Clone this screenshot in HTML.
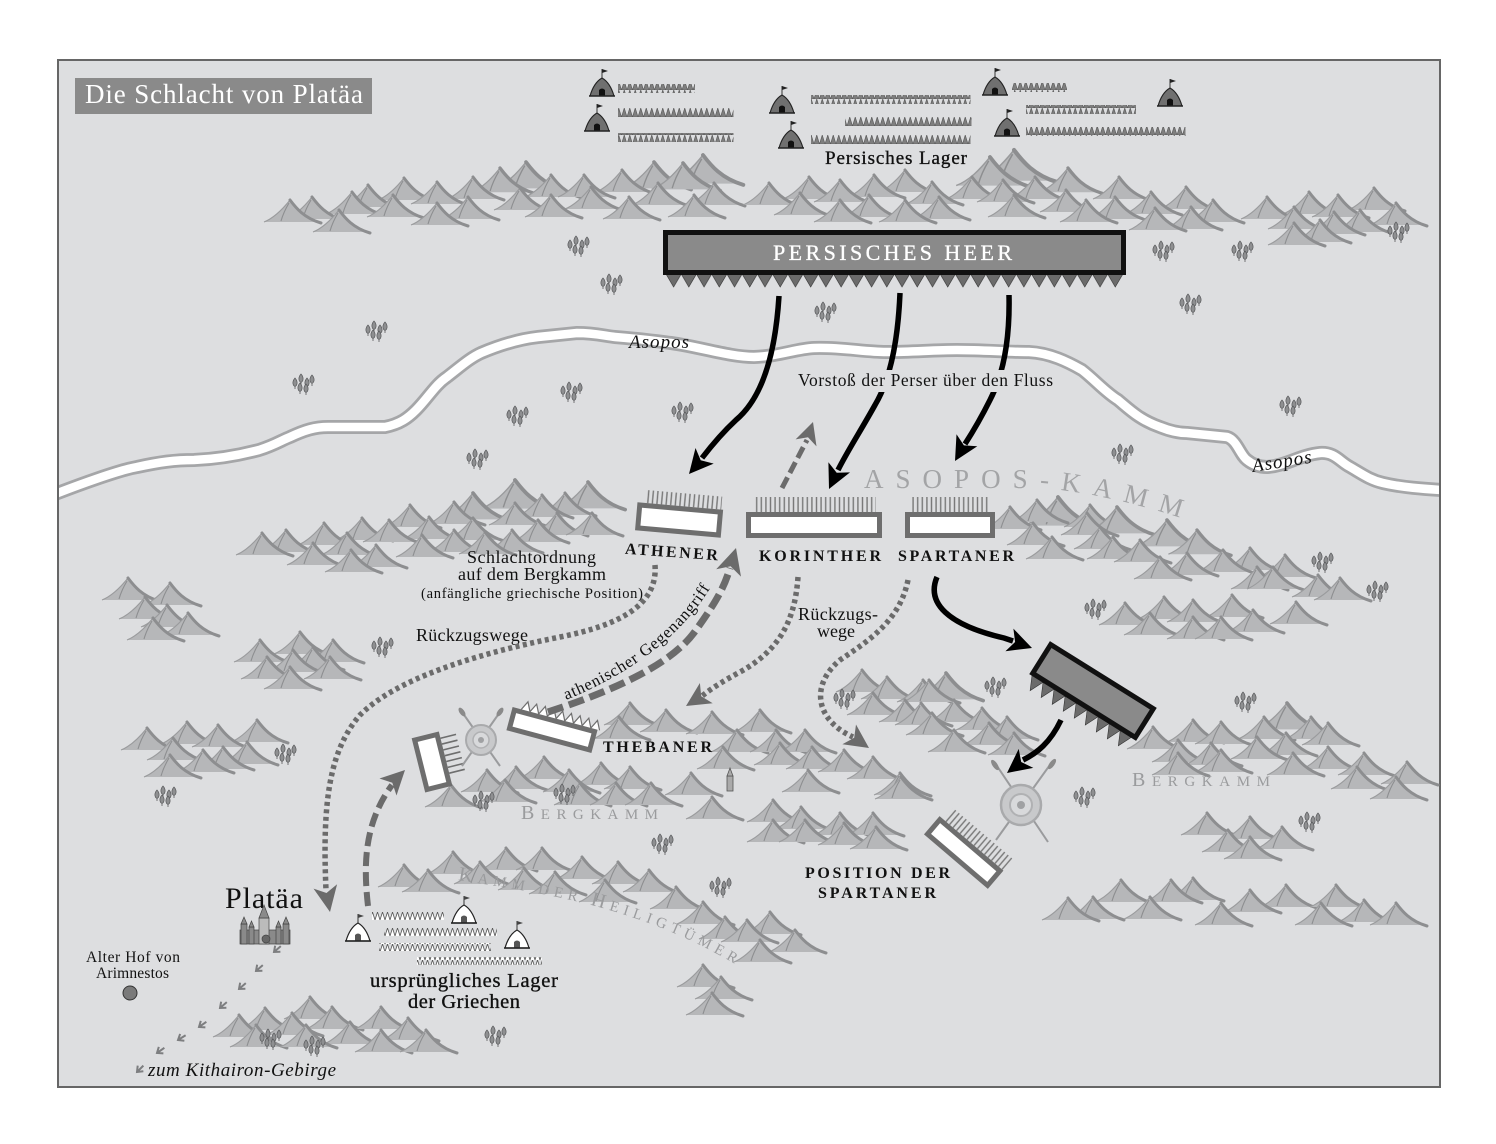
<!DOCTYPE html>
<html><head><meta charset="utf-8"><style>html,body{margin:0;padding:0;background:#fff}svg{display:block}</style></head>
<body>
<svg width="1496" height="1144" viewBox="0 0 1496 1144" xmlns="http://www.w3.org/2000/svg" xmlns:xlink="http://www.w3.org/1999/xlink" font-family="'Liberation Serif', serif">
<defs>
  <clipPath id="frame"><rect x="59" y="61" width="1380" height="1025"/></clipPath>
  <g id="m">
    <path d="M-26,22 C-16,18 -8,10 0,0 C6,8 14,17 28,22 Z" fill="#b6b7b9"/>
    <path d="M-26,22 C-16,18 -8,10 0,0" fill="none" stroke="#9a9b9d" stroke-width="1.1"/>
    <path d="M0,0 C6,8 14,18 31,23" fill="none" stroke="#8d8e90" stroke-width="3" stroke-linecap="round"/>
    <path d="M-9,21 C-7,14 -4,8 -1,3" fill="none" stroke="#8d8e90" stroke-width="1.1"/>
  </g>
  <g id="tt">
    <path d="M0,-7 C2.8,-4 2.8,0 0,1.5 C-2.8,0 -2.8,-4 0,-7Z" fill="#8e8f91" stroke="#58595b" stroke-width=".7"/>
    <path d="M0,1.5 L0,4" stroke="#58595b" stroke-width=".8"/>
  </g>
  <g id="tr">
    <use xlink:href="#tt" x="-8" y="0"/><use xlink:href="#tt" x="-2" y="-4"/><use xlink:href="#tt" x="4" y="0"/>
    <use xlink:href="#tt" x="9" y="-3"/><use xlink:href="#tt" x="-3" y="5"/><use xlink:href="#tt" x="3" y="6"/>
  </g>
  <g id="pt">
    <path d="M0,-9 L0,-18" stroke="#222" stroke-width=".9"/>
    <path d="M0,-18 L6,-16 L0,-14Z" fill="#222"/>
    <path d="M-12,9 C-10,2 -7,-5 0,-9 C7,-5 10,2 12,9Z" fill="#707070" stroke="#222" stroke-width="1.1"/>
    <path d="M-3,9 L-3,3 Q0,0 3,3 L3,9Z" fill="#111"/>
    <line x1="-13" y1="9" x2="13" y2="9" stroke="#222" stroke-width="1.6"/>
  </g>
  <g id="gt">
    <path d="M0,-9 L0,-18" stroke="#222" stroke-width=".9"/>
    <path d="M0,-18 L6,-16 L0,-14Z" fill="#444"/>
    <path d="M-12,9 C-10,2 -7,-5 0,-9 C7,-5 10,2 12,9Z" fill="#fff" stroke="#222" stroke-width="1.2"/>
    <path d="M-3,9 L-3,3 Q0,0 3,3 L3,9Z" fill="#555"/>
    <line x1="-13" y1="9" x2="13" y2="9" stroke="#222" stroke-width="1.6"/>
  </g>
  <g id="ch">
    <path d="M-4,-5 L0,0 L4,-5 M0,0 L0,-9" fill="none" stroke="#7d7e80" stroke-width="2"/>
  </g>
  <pattern id="teeth" x="666" y="274" width="15.23" height="14" patternUnits="userSpaceOnUse">
    <path d="M0,0 L15.23,0 L7.6,13 Z" fill="#6b6b6b" stroke="#333" stroke-width=".6"/>
  </pattern>
  <pattern id="zzp" width="5.5" height="9" patternUnits="userSpaceOnUse">
    <path d="M0,9 L2.75,0 L5.5,9 Z" fill="#7e7e7e" stroke="#555" stroke-width=".6"/>
  </pattern>
  <pattern id="zzg" width="5" height="8" patternUnits="userSpaceOnUse">
    <path d="M0,8 L2.5,0 L5,8" fill="#fff" stroke="#555" stroke-width=".8"/>
  </pattern>
  <pattern id="sp" width="4.6" height="16" patternUnits="userSpaceOnUse">
    <rect x="1.6" y="0" width="1.4" height="16" fill="#777"/>
  </pattern>
  <path id="akp" d="M864,488 L1035,488 C1075,490 1130,500 1205,526"/>
  <path id="khp" d="M458,880 C540,893 640,905 745,970"/>
  <path id="gap" d="M566,700 Q675,655 716,578"/>
  <path id="riv" d="M40,500 C80,484 120,470 137,467 C160,462 175,460 194,460 C220,459 240,455 259,450 C275,445 282,440 290,437 C305,430 315,427 328,427 L385,427 C400,424 408,418 416,410 C428,398 435,385 447,377 C460,367 470,358 481,353 C500,345 520,339 538,337 L577,333 C595,333 605,336 615,337 C640,339 655,341 671,343 C700,347 730,357 754,357 C780,356 795,349 814,348 C840,347 865,352 886,352 C910,352 935,350 957,350 C985,350 1005,352 1029,352 C1050,353 1068,362 1082,370 C1095,380 1105,392 1118,400 C1130,410 1140,420 1160,427 C1170,431 1178,433 1187,433 L1227,437 C1237,440 1240,455 1247,460 C1253,465 1260,467 1267,467 C1285,466 1300,455 1320,453 C1335,452 1340,462 1350,467 C1362,474 1370,480 1383,483 C1400,487 1420,489 1460,491"/>
</defs>

<rect width="1496" height="1144" fill="#fff"/>
<rect x="58" y="60" width="1382" height="1027" fill="#dddee0" stroke="#666" stroke-width="2"/>

<g fill="none" stroke-linejoin="round" clip-path="url(#frame)">
  <use xlink:href="#riv" stroke="#a5a6a8" stroke-width="14"/>
  <use xlink:href="#riv" stroke="#fff" stroke-width="8.5"/>
</g>

<g>
<use xlink:href="#m" transform="translate(703,155) scale(1.3)"/>
<use xlink:href="#m" transform="translate(526,162) scale(1.2)"/>
<use xlink:href="#m" transform="translate(654,162) scale(1.2)"/>
<use xlink:href="#m" transform="translate(683,163) scale(1.2)"/>
<use xlink:href="#m" transform="translate(500,168) scale(1.1)"/>
<use xlink:href="#m" x="622" y="170"/><use xlink:href="#m" x="473" y="177"/><use xlink:href="#m" x="551" y="175"/>
<use xlink:href="#m" x="584" y="175"/><use xlink:href="#m" x="404" y="178"/><use xlink:href="#m" x="437" y="182"/>
<use xlink:href="#m" x="658" y="183"/><use xlink:href="#m" x="714" y="183"/><use xlink:href="#m" x="368" y="185"/>
<use xlink:href="#m" x="591" y="187"/><use xlink:href="#m" x="520" y="188"/><use xlink:href="#m" x="352" y="192"/>
<use xlink:href="#m" x="393" y="195"/><use xlink:href="#m" x="551" y="195"/><use xlink:href="#m" x="694" y="195"/>
<use xlink:href="#m" x="312" y="197"/><use xlink:href="#m" x="468" y="197"/><use xlink:href="#m" x="629" y="197"/>
<use xlink:href="#m" x="290" y="200"/><use xlink:href="#m" x="437" y="203"/><use xlink:href="#m" x="339" y="210"/>
<use xlink:href="#m" transform="translate(1014,150) scale(1.4)"/>
<use xlink:href="#m" transform="translate(990,157) scale(1.3)"/>
<use xlink:href="#m" transform="translate(1068,168) scale(1.1)"/>
<use xlink:href="#m" x="905" y="170"/><use xlink:href="#m" x="874" y="175"/><use xlink:href="#m" x="809" y="177"/>
<use xlink:href="#m" x="972" y="177"/><use xlink:href="#m" x="1035" y="177"/><use xlink:href="#m" x="1119" y="177"/>
<use xlink:href="#m" x="840" y="180"/><use xlink:href="#m" x="1003" y="180"/><use xlink:href="#m" x="932" y="182"/>
<use xlink:href="#m" x="769" y="183"/><use xlink:href="#m" x="1186" y="187"/><use xlink:href="#m" x="1066" y="190"/>
<use xlink:href="#m" x="1151" y="192"/><use xlink:href="#m" x="800" y="193"/><use xlink:href="#m" x="869" y="195"/>
<use xlink:href="#m" x="1014" y="195"/><use xlink:href="#m" x="939" y="197"/><use xlink:href="#m" x="1115" y="197"/>
<use xlink:href="#m" x="840" y="200"/><use xlink:href="#m" x="905" y="200"/><use xlink:href="#m" x="1086" y="200"/>
<use xlink:href="#m" x="1213" y="200"/><use xlink:href="#m" x="1191" y="207"/><use xlink:href="#m" x="1155" y="208"/>
<use xlink:href="#m" x="1374" y="188"/><use xlink:href="#m" x="1309" y="192"/><use xlink:href="#m" x="1338" y="195"/>
<use xlink:href="#m" x="1267" y="197"/><use xlink:href="#m" x="1396" y="203"/><use xlink:href="#m" x="1294" y="207"/>
<use xlink:href="#m" x="1360" y="210"/><use xlink:href="#m" x="1334" y="212"/><use xlink:href="#m" x="1320" y="220"/>
<use xlink:href="#m" x="1294" y="223"/>
<use xlink:href="#m" transform="translate(515,480) scale(1.3)"/>
<use xlink:href="#m" transform="translate(588,482) scale(1.2)"/>
<use xlink:href="#m" transform="translate(473,493) scale(1.2)"/>
<use xlink:href="#m" x="565" y="493"/><use xlink:href="#m" x="542" y="495"/><use xlink:href="#m" x="454" y="502"/>
<use xlink:href="#m" x="515" y="503"/><use xlink:href="#m" x="410" y="505"/><use xlink:href="#m" x="557" y="513"/>
<use xlink:href="#m" x="592" y="513"/><use xlink:href="#m" x="429" y="517"/><use xlink:href="#m" x="362" y="518"/>
<use xlink:href="#m" x="473" y="518"/><use xlink:href="#m" x="389" y="520"/><use xlink:href="#m" x="538" y="520"/>
<use xlink:href="#m" x="324" y="523"/><use xlink:href="#m" x="286" y="530"/><use xlink:href="#m" x="454" y="530"/>
<use xlink:href="#m" x="512" y="530"/><use xlink:href="#m" x="262" y="533"/><use xlink:href="#m" x="347" y="533"/>
<use xlink:href="#m" x="485" y="532"/><use xlink:href="#m" x="422" y="535"/><use xlink:href="#m" x="313" y="543"/>
<use xlink:href="#m" x="376" y="545"/><use xlink:href="#m" x="351" y="550"/>
<use xlink:href="#m" transform="translate(1058,497) scale(1.3)"/>
<use xlink:href="#m" x="1037" y="500"/><use xlink:href="#m" x="1090" y="505"/><use xlink:href="#m" x="1010" y="507"/>
<use xlink:href="#m" transform="translate(1117,507) scale(1.2)"/>
<use xlink:href="#m" x="1087" y="513"/>
<use xlink:href="#m" transform="translate(1167,520) scale(1.2)"/>
<use xlink:href="#m" x="1033" y="523"/><use xlink:href="#m" x="1100" y="527"/>
<use xlink:href="#m" transform="translate(1197,530) scale(1.1)"/>
<use xlink:href="#m" x="1052" y="537"/><use xlink:href="#m" x="1113" y="537"/><use xlink:href="#m" x="1140" y="540"/>
<use xlink:href="#m" x="1250" y="548"/><use xlink:href="#m" x="1223" y="550"/><use xlink:href="#m" x="1187" y="553"/>
<use xlink:href="#m" x="1285" y="555"/><use xlink:href="#m" x="1160" y="557"/><use xlink:href="#m" x="1257" y="567"/>
<use xlink:href="#m" x="1273" y="567"/><use xlink:href="#m" x="1318" y="575"/><use xlink:href="#m" x="1340" y="578"/>
<use xlink:href="#m" x="1232" y="595"/><use xlink:href="#m" x="1164" y="597"/><use xlink:href="#m" x="1193" y="600"/>
<use xlink:href="#m" x="1296" y="602"/><use xlink:href="#m" x="1125" y="603"/><use xlink:href="#m" x="1253" y="610"/>
<use xlink:href="#m" x="1150" y="613"/><use xlink:href="#m" x="1193" y="617"/><use xlink:href="#m" x="1221" y="617"/>
<use xlink:href="#m" x="128" y="578"/><use xlink:href="#m" x="170" y="583"/><use xlink:href="#m" x="145" y="597"/>
<use xlink:href="#m" x="167" y="605"/><use xlink:href="#m" x="188" y="613"/><use xlink:href="#m" x="153" y="618"/>
<use xlink:href="#m" x="300" y="632"/><use xlink:href="#m" x="260" y="640"/><use xlink:href="#m" x="333" y="640"/>
<use xlink:href="#m" x="313" y="647"/><use xlink:href="#m" x="293" y="650"/><use xlink:href="#m" x="267" y="657"/>
<use xlink:href="#m" x="330" y="657"/><use xlink:href="#m" x="290" y="667"/>
<use xlink:href="#m" x="257" y="720"/><use xlink:href="#m" x="187" y="722"/><use xlink:href="#m" x="218" y="725"/>
<use xlink:href="#m" x="147" y="728"/><use xlink:href="#m" x="173" y="738"/><use xlink:href="#m" x="247" y="742"/>
<use xlink:href="#m" x="223" y="747"/><use xlink:href="#m" x="203" y="750"/><use xlink:href="#m" x="170" y="755"/>
<use xlink:href="#m" transform="translate(946,673) scale(1.2)"/>
<use xlink:href="#m" x="862" y="670"/><use xlink:href="#m" x="887" y="677"/><use xlink:href="#m" x="923" y="680"/>
<use xlink:href="#m" x="929" y="680"/><use xlink:href="#m" x="873" y="693"/><use xlink:href="#m" x="905" y="700"/>
<use xlink:href="#m" x="954" y="700"/><use xlink:href="#m" x="630" y="703"/><use xlink:href="#m" x="921" y="703"/>
<use xlink:href="#m" x="982" y="708"/><use xlink:href="#m" x="666" y="710"/><use xlink:href="#m" x="760" y="710"/>
<use xlink:href="#m" x="712" y="712"/><use xlink:href="#m" x="932" y="713"/><use xlink:href="#m" x="619" y="717"/>
<use xlink:href="#m" x="1007" y="717"/><use xlink:href="#m" x="989" y="723"/><use xlink:href="#m" x="737" y="730"/>
<use xlink:href="#m" x="776" y="730"/><use xlink:href="#m" x="805" y="730"/><use xlink:href="#m" x="954" y="730"/>
<use xlink:href="#m" x="1014" y="733"/><use xlink:href="#m" x="780" y="743"/><use xlink:href="#m" x="723" y="747"/>
<use xlink:href="#m" x="812" y="747"/><use xlink:href="#m" x="844" y="750"/><use xlink:href="#m" x="873" y="757"/>
<use xlink:href="#m" x="544" y="757"/><use xlink:href="#m" x="601" y="763"/><use xlink:href="#m" x="516" y="767"/>
<use xlink:href="#m" x="630" y="767"/><use xlink:href="#m" x="487" y="770"/><use xlink:href="#m" x="569" y="770"/>
<use xlink:href="#m" x="808" y="770"/><use xlink:href="#m" x="691" y="773"/><use xlink:href="#m" x="900" y="773"/>
<use xlink:href="#m" x="901" y="777"/><use xlink:href="#m" x="505" y="780"/><use xlink:href="#m" x="580" y="783"/>
<use xlink:href="#m" x="616" y="783"/><use xlink:href="#m" x="651" y="783"/><use xlink:href="#m" x="451" y="785"/>
<use xlink:href="#m" x="712" y="797"/><use xlink:href="#m" x="773" y="800"/><use xlink:href="#m" x="801" y="807"/>
<use xlink:href="#m" x="840" y="813"/><use xlink:href="#m" x="873" y="813"/><use xlink:href="#m" x="773" y="820"/>
<use xlink:href="#m" x="805" y="820"/><use xlink:href="#m" x="844" y="823"/><use xlink:href="#m" x="876" y="827"/>
<use xlink:href="#m" transform="translate(1287,703) scale(1.2)"/>
<use xlink:href="#m" x="1264" y="717"/><use xlink:href="#m" x="1311" y="717"/><use xlink:href="#m" x="1193" y="720"/>
<use xlink:href="#m" x="1221" y="722"/><use xlink:href="#m" x="1328" y="723"/><use xlink:href="#m" x="1153" y="727"/>
<use xlink:href="#m" x="1286" y="733"/><use xlink:href="#m" x="1257" y="737"/><use xlink:href="#m" x="1178" y="740"/>
<use xlink:href="#m" x="1211" y="743"/><use xlink:href="#m" x="1328" y="747"/><use xlink:href="#m" x="1221" y="750"/>
<use xlink:href="#m" x="1178" y="753"/><use xlink:href="#m" x="1293" y="753"/><use xlink:href="#m" x="1364" y="753"/>
<use xlink:href="#m" x="1407" y="762"/><use xlink:href="#m" x="1357" y="767"/><use xlink:href="#m" x="1396" y="777"/>
<use xlink:href="#m" x="1207" y="813"/><use xlink:href="#m" x="1250" y="817"/><use xlink:href="#m" x="1282" y="827"/>
<use xlink:href="#m" x="1228" y="830"/><use xlink:href="#m" x="1250" y="837"/>
<use xlink:href="#m" x="1193" y="878"/><use xlink:href="#m" x="1121" y="880"/><use xlink:href="#m" x="1171" y="880"/>
<use xlink:href="#m" x="1286" y="885"/><use xlink:href="#m" x="1336" y="885"/><use xlink:href="#m" x="1250" y="890"/>
<use xlink:href="#m" x="1093" y="897"/><use xlink:href="#m" x="1150" y="897"/><use xlink:href="#m" x="1068" y="898"/>
<use xlink:href="#m" x="1364" y="900"/><use xlink:href="#m" x="1221" y="903"/><use xlink:href="#m" x="1321" y="903"/>
<use xlink:href="#m" x="1396" y="903"/>
<use xlink:href="#m" x="506" y="848"/><use xlink:href="#m" x="542" y="848"/><use xlink:href="#m" x="453" y="852"/>
<use xlink:href="#m" x="582" y="857"/><use xlink:href="#m" x="480" y="862"/><use xlink:href="#m" x="618" y="862"/>
<use xlink:href="#m" x="404" y="865"/><use xlink:href="#m" x="524" y="868"/><use xlink:href="#m" x="428" y="870"/>
<use xlink:href="#m" x="649" y="870"/><use xlink:href="#m" x="555" y="872"/><use xlink:href="#m" x="605" y="880"/>
<use xlink:href="#m" x="676" y="887"/><use xlink:href="#m" x="703" y="902"/><use xlink:href="#m" x="770" y="912"/>
<use xlink:href="#m" x="725" y="917"/><use xlink:href="#m" x="747" y="920"/><use xlink:href="#m" x="795" y="930"/>
<use xlink:href="#m" x="760" y="940"/><use xlink:href="#m" x="703" y="965"/><use xlink:href="#m" x="721" y="977"/>
<use xlink:href="#m" x="712" y="993"/>
<use xlink:href="#m" x="310" y="997"/><use xlink:href="#m" x="332" y="1007"/><use xlink:href="#m" x="381" y="1007"/>
<use xlink:href="#m" x="265" y="1008"/><use xlink:href="#m" x="292" y="1013"/><use xlink:href="#m" x="239" y="1015"/>
<use xlink:href="#m" x="408" y="1018"/><use xlink:href="#m" x="350" y="1022"/><use xlink:href="#m" x="256" y="1025"/>
<use xlink:href="#m" x="306" y="1025"/><use xlink:href="#m" x="381" y="1030"/><use xlink:href="#m" x="426" y="1030"/>
</g>

<g>
<use xlink:href="#tr" x="578" y="247"/><use xlink:href="#tr" x="611" y="285"/><use xlink:href="#tr" x="376" y="332"/>
<use xlink:href="#tr" x="303" y="385"/><use xlink:href="#tr" x="517" y="417"/><use xlink:href="#tr" x="571" y="393"/>
<use xlink:href="#tr" x="682" y="413"/><use xlink:href="#tr" x="477" y="460"/><use xlink:href="#tr" x="825" y="313"/>
<use xlink:href="#tr" x="1163" y="252"/><use xlink:href="#tr" x="1242" y="252"/><use xlink:href="#tr" x="1190" y="305"/>
<use xlink:href="#tr" x="1398" y="233"/><use xlink:href="#tr" x="1290" y="407"/><use xlink:href="#tr" x="1122" y="455"/>
<use xlink:href="#tr" x="1322" y="563"/><use xlink:href="#tr" x="1377" y="592"/><use xlink:href="#tr" x="1095" y="610"/>
<use xlink:href="#tr" x="382" y="648"/><use xlink:href="#tr" x="285" y="755"/><use xlink:href="#tr" x="165" y="797"/>
<use xlink:href="#tr" x="483" y="802"/><use xlink:href="#tr" x="564" y="795"/><use xlink:href="#tr" x="844" y="700"/>
<use xlink:href="#tr" x="995" y="688"/><use xlink:href="#tr" x="1245" y="703"/><use xlink:href="#tr" x="1084" y="798"/>
<use xlink:href="#tr" x="1309" y="823"/><use xlink:href="#tr" x="662" y="845"/><use xlink:href="#tr" x="720" y="888"/>
<use xlink:href="#tr" x="270" y="1040"/><use xlink:href="#tr" x="314" y="1047"/><use xlink:href="#tr" x="495" y="1037"/>
</g>

<g>
<rect x="618" y="84" width="77" height="9" fill="url(#zzp)"/>
<rect x="618" y="108" width="115.5" height="9" fill="url(#zzp)"/>
<rect x="618" y="133" width="115.5" height="9" fill="url(#zzp)"/>
<rect x="811" y="95" width="159.5" height="9" fill="url(#zzp)"/>
<rect x="845" y="117" width="126.5" height="9" fill="url(#zzp)"/>
<rect x="811" y="135" width="159.5" height="9" fill="url(#zzp)"/>
<rect x="1012" y="83" width="55" height="9" fill="url(#zzp)"/>
<rect x="1026" y="105" width="110" height="9" fill="url(#zzp)"/>
<rect x="1026" y="127" width="159.5" height="9" fill="url(#zzp)"/>
<use xlink:href="#pt" x="602" y="87"/><use xlink:href="#pt" x="597" y="122"/>
<use xlink:href="#pt" x="782" y="104"/><use xlink:href="#pt" x="791" y="139"/>
<use xlink:href="#pt" x="995" y="86"/><use xlink:href="#pt" x="1007" y="127"/>
<use xlink:href="#pt" x="1170" y="97"/>
</g>
<text x="825" y="164" font-size="19" textLength="142" fill="#111" stroke="#111" stroke-width=".35">Persisches Lager</text>

<rect x="75" y="78" width="297" height="36" fill="#8a8a8a"/>
<text x="85" y="103" font-size="27" fill="#fff" textLength="278">Die Schlacht von Platäa</text>

<rect x="666" y="274" width="457" height="14" fill="url(#teeth)"/>
<rect x="665.5" y="232.5" width="458" height="40" fill="#8a8a8a" stroke="#111" stroke-width="5"/>
<text x="773" y="260" font-size="22" fill="#fff" textLength="239" stroke="#fff" stroke-width=".3">PERSISCHES HEER</text>

<text x="629" y="348" font-size="19" font-style="italic" textLength="60" fill="#111">Asopos</text>
<text x="1253" y="472" font-size="19" font-style="italic" textLength="60" fill="#111" transform="rotate(-9 1253 472)">Asopos</text>

<text font-size="27" fill="#a3a4a6" letter-spacing="12"><textPath xlink:href="#akp">ASOPOS-KAMM</textPath></text>

<g transform="rotate(5 679 521)">
  <rect x="644" y="493" width="76" height="13" fill="url(#sp)"/>
  <rect x="638.5" y="508.5" width="81" height="23" fill="#fff" stroke="#6e6e6e" stroke-width="5"/>
</g>
<rect x="755" y="497" width="121" height="15" fill="url(#sp)"/>
<rect x="748.5" y="514.5" width="131" height="21" fill="#fff" stroke="#6e6e6e" stroke-width="5"/>
<rect x="912" y="497" width="76" height="15" fill="url(#sp)"/>
<rect x="907.5" y="514.5" width="85" height="21" fill="#fff" stroke="#6e6e6e" stroke-width="5"/>

<g font-weight="bold" font-size="16" fill="#111">
<text x="625" y="557" textLength="93" transform="rotate(4 671 552)">ATHENER</text>
<text x="759" y="561" textLength="122">KORINTHER</text>
<text x="898" y="561" textLength="116">SPARTANER</text>
<text x="603" y="752" textLength="109">THEBANER</text>
<text x="805" y="878" textLength="145">POSITION DER</text>
<text x="818" y="898" textLength="118">SPARTANER</text>
</g>

<g fill="#111">
<text x="467" y="563" font-size="18" textLength="129">Schlachtordnung</text>
<text x="458" y="580" font-size="18" textLength="148">auf dem Bergkamm</text>
<text x="421" y="598" font-size="14.5" textLength="222">(anfängliche griechische Position)</text>
<text x="416" y="641" font-size="18" textLength="112">Rückzugswege</text>
<text x="798" y="620" font-size="18" textLength="80">Rückzugs-</text>
<text x="817" y="637" font-size="18" textLength="38">wege</text>
<text x="225" y="908" font-size="30" textLength="78">Platäa</text>
<text x="86" y="962" font-size="15.5" textLength="94">Alter Hof von</text>
<text x="96" y="978" font-size="15.5" textLength="73">Arimnestos</text>
<text x="148" y="1076" font-size="19" font-style="italic" textLength="188">zum Kithairon-Gebirge</text>
<text x="370" y="987" font-size="20.5" textLength="188" stroke="#111" stroke-width=".35">ursprüngliches Lager</text>
<text x="408" y="1008" font-size="20.5" textLength="112" stroke="#111" stroke-width=".35">der Griechen</text>
<text font-size="16.5" letter-spacing=".8"><textPath xlink:href="#gap">athenischer Gegenangriff</textPath></text>
</g>

<g fill="#9a9b9d">
<text x="521" y="819" textLength="137"><tspan font-size="20">B</tspan><tspan font-size="15">ERGKAMM</tspan></text>
<text x="1132" y="786" textLength="138"><tspan font-size="20">B</tspan><tspan font-size="15">ERGKAMM</tspan></text>
<text letter-spacing="5"><textPath xlink:href="#khp"><tspan font-size="20">K</tspan><tspan font-size="15">AMM DER </tspan><tspan font-size="20">H</tspan><tspan font-size="15">EILIGTÜMER</tspan></textPath></text>
</g>

<g>
<rect x="372" y="912" width="72" height="8" fill="url(#zzg)"/>
<rect x="384" y="928" width="113" height="8" fill="url(#zzg)"/>
<rect x="379" y="943" width="112" height="8" fill="url(#zzg)"/>
<rect x="417" y="957" width="125" height="8" fill="url(#zzg)"/>
<use xlink:href="#gt" x="358" y="932"/><use xlink:href="#gt" x="464" y="914"/><use xlink:href="#gt" x="517" y="939"/>
</g>

<g fill="#8a8a8a" stroke="#444" stroke-width=".7">
  <rect x="240" y="930" width="50" height="14"/>
  <rect x="241" y="924" width="6" height="20"/><polygon points="241,924 244,917 247,924"/>
  <rect x="249" y="927" width="5" height="17"/><polygon points="249,927 251.5,921 254,927"/>
  <rect x="276" y="927" width="5" height="17"/><polygon points="276,927 278.5,921 281,927"/>
  <rect x="283" y="924" width="6" height="20"/><polygon points="283,924 286,917 289,924"/>
  <rect x="259" y="918" width="10" height="26" fill="#bbb"/><polygon points="259,918 264,905 269,918"/>
  <circle cx="266" cy="939" r="4" fill="#666"/>
</g>
<circle cx="130" cy="993" r="7" fill="#7a7a7a" stroke="#333" stroke-width="1"/>
<g fill="#aaa" stroke="#555" stroke-width=".8">
<rect x="727" y="776" width="6" height="15"/><polygon points="727,776 730,768 733,776"/>
</g>

<g>
<use xlink:href="#ch" transform="translate(274,952) rotate(49)"/>
<use xlink:href="#ch" transform="translate(256,971) rotate(49)"/>
<use xlink:href="#ch" transform="translate(239,989) rotate(49)"/>
<use xlink:href="#ch" transform="translate(220,1008) rotate(49)"/>
<use xlink:href="#ch" transform="translate(199,1027) rotate(55)"/>
<use xlink:href="#ch" transform="translate(178,1040) rotate(58)"/>
<use xlink:href="#ch" transform="translate(157,1053) rotate(55)"/>
<use xlink:href="#ch" transform="translate(137,1072) rotate(45)"/>
</g>

<g transform="rotate(15 552 730)">
  <path d="M517,718 L521.5,709 L526,718 L530.5,709 L535,718 L539.5,709 L544,718 L548.5,709 L553,718 L557.5,709 L562,718 L566.5,709 L571,718 L575.5,709 L580,718 L584.5,709 L589,718 L593.5,709 L598,718" fill="#fff" stroke="#6e6e6e" stroke-width="1.2"/>
  <rect x="510.5" y="720.5" width="83" height="19" fill="#fff" stroke="#6e6e6e" stroke-width="5"/>
</g>
<g transform="rotate(-14 432 762)">
  <g stroke="#6e6e6e" stroke-width="1.6">
    <line x1="446" y1="741" x2="462" y2="741"/><line x1="446" y1="747" x2="462" y2="747"/>
    <line x1="446" y1="753" x2="462" y2="753"/><line x1="446" y1="759" x2="462" y2="759"/>
    <line x1="446" y1="765" x2="462" y2="765"/><line x1="446" y1="771" x2="462" y2="771"/>
    <line x1="446" y1="777" x2="462" y2="777"/>
  </g>
  <rect x="420.5" y="736.5" width="23" height="51" fill="#fff" stroke="#6e6e6e" stroke-width="5"/>
</g>
<g>
  <line x1="462" y1="712" x2="500" y2="766" stroke="#9a9b9d" stroke-width="2"/>
  <line x1="500" y1="712" x2="462" y2="766" stroke="#9a9b9d" stroke-width="2"/>
  <ellipse cx="462" cy="712" rx="2.5" ry="5" transform="rotate(-35 462 712)" fill="#8a8a8a"/>
  <ellipse cx="500" cy="712" rx="2.5" ry="5" transform="rotate(35 500 712)" fill="#8a8a8a"/>
  <circle cx="481" cy="740" r="15" fill="#c8c9cb" stroke="#a9aaac" stroke-width="2"/>
  <circle cx="481" cy="740" r="8" fill="#d8d9db" stroke="#b0b1b3" stroke-width="1.5"/>
  <circle cx="481" cy="740" r="3" fill="#a0a1a3"/>
</g>

<g transform="rotate(32 1093 691)">
  <path d="M1033,710 L1039.5,724 L1046,710 L1052.5,724 L1059,710 L1065.5,724 L1072,710 L1078.5,724 L1085,710 L1091.5,724 L1098,710 L1104.5,724 L1111,710 L1117.5,724 L1124,710 L1130.5,724 L1137,710 L1143.5,724 L1150,710Z" fill="#6b6b6b" stroke="#333" stroke-width=".6"/>
  <rect x="1032.5" y="674" width="121" height="34" fill="#8a8a8a" stroke="#111" stroke-width="5"/>
</g>
<g>
  <line x1="995" y1="763" x2="1048" y2="842" stroke="#9a9b9d" stroke-width="2"/>
  <line x1="1052" y1="762" x2="996" y2="840" stroke="#9a9b9d" stroke-width="2"/>
  <ellipse cx="995" cy="765" rx="2.5" ry="6" transform="rotate(-34 995 765)" fill="#8a8a8a"/>
  <ellipse cx="1052" cy="764" rx="2.5" ry="6" transform="rotate(36 1052 764)" fill="#8a8a8a"/>
  <circle cx="1021" cy="805" r="20" fill="#c8c9cb" stroke="#a9aaac" stroke-width="2.5"/>
  <circle cx="1021" cy="805" r="11" fill="#d8d9db" stroke="#b0b1b3" stroke-width="2"/>
  <circle cx="1021" cy="805" r="4" fill="#a0a1a3"/>
</g>
<g transform="rotate(40.5 965 851)">
  <rect x="928" y="826" width="78" height="15" fill="url(#sp)"/>
  <rect x="925.5" y="843.5" width="79" height="19" fill="#fff" stroke="#6e6e6e" stroke-width="5"/>
</g>

<g fill="none" stroke="#000" stroke-width="5.5" stroke-linecap="butt">
  <path d="M779,296 C775,360 760,400 736,420 C722,433 712,445 702,458"/>
  <path d="M900,293 C898,340 890,380 875,405 C860,432 848,450 838,470"/>
  <path d="M1009,295 C1010,340 1003,375 990,400 C980,420 974,430 965,444"/>
  <path d="M937,577 C926,603 948,625 1004,638 L1013,641"/>
  <path d="M1061,720 C1050,743 1037,753 1023,760"/>
</g>
<g fill="#000">
  <polygon points="689,474 695.5,448 700.7,460.3 713.7,463.6"/>
  <polygon points="829,489 828.4,462.2 836.7,472.7 850,472.4"/>
  <polygon points="955,461 956.5,434.2 963.9,445.4 977.3,446.2"/>
  <polygon points="1032,648 1013.4,628.6 1015.1,642 1005.4,651.2"/>
  <polygon points="1007,773 1018.7,748.9 1021.2,762 1033.3,767.9"/>
</g>
<rect x="794" y="370" width="263" height="22" fill="#dddee0"/>
<text x="798" y="386" font-size="17.5" textLength="255" fill="#111">Vorstoß der Perser über den Fluss</text>

<g fill="none" stroke="#6b6b6b">
  <path d="M782,488 L807,440" stroke-width="5" stroke-dasharray="12 5"/>
  <path d="M548,712 C600,695 670,668 696,630 C716,602 724,588 730,568" stroke-width="7" stroke-dasharray="16 6"/>
  <path d="M368,906 C363,862 365,822 392,785" stroke-width="6" stroke-dasharray="14 6"/>
  <path d="M655,565 C658,605 620,625 560,637 C470,655 395,680 360,715 C330,750 322,800 326,890" stroke-width="5.5" stroke-dasharray="4 3.5"/>
  <path d="M798,577 C795,620 780,650 740,672 C725,680 712,688 702,696" stroke-width="5.5" stroke-dasharray="4 3.5"/>
  <path d="M908,580 C900,620 870,640 840,660 C810,685 815,720 853,737" stroke-width="5.5" stroke-dasharray="4 3.5"/>
</g>
<g fill="#6b6b6b">
  <polygon points="813,422 816.5,446.4 808,437.2 795.6,439.4"/>
  <polygon points="736,548 741,576.6 730.6,566.2 716.2,569.2"/>
  <polygon points="405,770 396.5,795.5 392.3,782.7 379.5,778.5"/>
  <polygon points="330,912 313.5,888.6 326.5,893 337.1,884.2"/>
  <polygon points="686,706 699.9,683 701.2,696.3 712.7,703.2"/>
  <polygon points="869,748 842.4,744.3 854.2,737.8 856,724.5"/>
</g>
</svg>
</body></html>
